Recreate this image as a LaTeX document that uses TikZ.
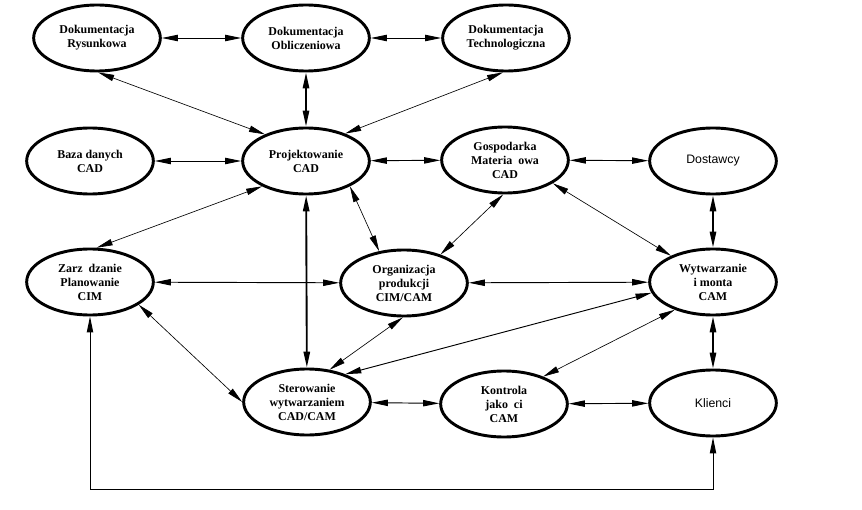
\documentclass[tikz,border=0pt]{standalone}
\usepackage{fontspec}
\setmainfont{Liberation Serif}
\newfontfamily\plainsans{Liberation Sans}
\usepackage{tikz}
\usetikzlibrary{arrows.meta, shapes.geometric}

\begin{document}
\begin{tikzpicture}[x=0.03cm, y=-0.03cm,
    unit/.style={ellipse, draw, line width=2.5pt, minimum width=3.8cm, minimum height=1.98cm, inner sep=0pt, align=center, font=\fontsize{10.2}{12}\selectfont\bfseries},
    outside/.style={unit, font=\fontsize{10.5}{12}\selectfont\plainsans},
    link/.style={<->, line width=0.8pt},
    thinlink/.style={<->, line width=0.55pt},
    thicklink/.style={<->, line width=1.6pt}]
  \tikzset{>={Triangle[length=0.48cm,width=0.19cm]}}

  \useasboundingbox (0,0) rectangle (862,510);

  % Documentation row
  \node[unit] (dokrys) at (97,38) {Dokumentacja\\Rysunkowa};
  \node[unit] (dokobl) at (306,38) {Dokumentacja\\Obliczeniowa};
  \node[unit] (doktech) at (506,38) {Dokumentacja\\Technologiczna};

  % Design row
  \node[unit] (baza) at (90,161) {Baza danych\\CAD};
  \node[unit] (proj) at (306,161) {Projektowanie\\CAD};
  \node[unit] (gosp) at (505,160) {Gospodarka\\Materia\enspace owa\\CAD};
  \node[outside] (dost) at (713,161) {Dostawcy};

  % Planning row
  \node[unit] (zarz) at (90,282) {Zarz\enspace dzanie\\Planowanie\\CIM};
  \node[unit] (org) at (404,283) {Organizacja\\produkcji\\CIM/CAM};
  \node[unit] (wytw) at (713,282) {Wytwarzanie\\i monta\\CAM};

  % Production row
  \node[unit] (ster) at (307,402) {Sterowanie\\wytwarzaniem\\CAD/CAM};
  \node[unit] (kontr) at (504,404) {Kontrola\\jako\enspace ci\\CAM};
  \node[outside] (klienci) at (713,403) {Klienci};

  \coordinate (corner) at (89,489);

  % Links from the documentation
  \draw[link] (dokrys) -- (dokobl);
  \draw[link] (dokobl) -- (doktech);
  \draw[thinlink] (dokrys.-88) -- (proj.147);
  \draw[thicklink] (dokobl) -- (proj);
  \draw[thinlink] (doktech.-95) -- (proj.35);

  % Links round the design
  \draw[link] (baza) -- (proj);
  \draw[link] (proj) -- (gosp);
  \draw[link] (gosp) -- (dost);
  \draw[thinlink] (proj.210) -- (zarz.79);
  \draw[thinlink] (proj.-30) -- (org.128);
  \draw[thicklink] (proj) -- (ster);
  \draw[thinlink] (gosp.-93) -- (org.38);
  \draw[thinlink] (gosp.-26) -- (wytw.148);
  \draw[thicklink] (dost) -- (wytw);

  % Links round the production
  \draw[link] (zarz) -- (org);
  \draw[link] (org) -- (wytw);
  \draw[thinlink] (zarz.-25) -- (ster.west);
  \draw[thinlink] (org.-92) -- (ster.55);
  \draw[link] (wytw.190) -- (ster.36);
  \draw[thinlink] (wytw.216) -- (kontr.35);
  \draw[thicklink] (wytw) -- (klienci);
  \draw[link] (ster) -- (kontr);
  \draw[link] (kontr) -- (klienci);
  \draw[link] (zarz.south) -- (zarz.south |- corner) -| (klienci.south);
\end{tikzpicture}
\end{document}
